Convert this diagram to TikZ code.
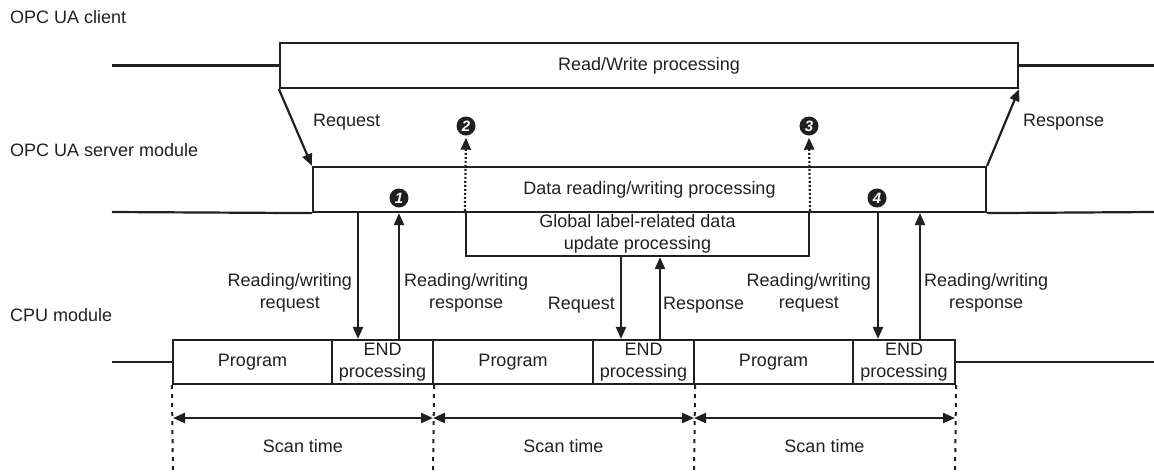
\documentclass[tikz,border=0pt]{standalone}
\usepackage{fontspec}
\setmainfont{Liberation Sans}
\usetikzlibrary{arrows.meta}
\definecolor{ink}{RGB}{35,31,32}
\newcommand\lblfont{\fontsize{18}{22}\selectfont}
\newcommand\cirnumfont{\fontsize{15}{15}\selectfont\bfseries\itshape}
\begin{document}
\begin{tikzpicture}[x=1pt,y=-1pt,
  box/.style={draw=ink, line width=2.2pt, inner sep=0pt, align=center, font=\lblfont, text=ink},
  lbl/.style={inner sep=0pt, align=center, font=\lblfont, text=ink},
  ln/.style={draw=ink, line width=2.2pt},
  arr/.style={draw=ink, line width=2.2pt, -{Triangle[length=12pt,width=10pt]}},
  dotarr/.style={draw=ink, line width=2.2pt, dash pattern=on 2pt off 2pt, -{Triangle[length=12pt,width=10pt]}},
  dblarr/.style={draw=ink, line width=2.2pt, {Triangle[length=12pt,width=10pt]}-{Triangle[length=12pt,width=10pt]}},
  dashln/.style={draw=ink, line width=2pt, dash pattern=on 4pt off 5pt},
  num/.style={circle, fill=ink, text=white, inner sep=0pt, minimum size=19pt, font=\cirnumfont}]
\useasboundingbox (0,0) rectangle (1154,475);

% row labels
\node[lbl, anchor=west] (lclient) at (10,17) {OPC UA client};
\node[lbl, anchor=west] (lserver) at (10,150) {OPC UA server module};
\node[lbl, anchor=west] (lcpu) at (10,315) {CPU module};

% coordinates for line ends
\coordinate (cL) at (112,65.5);
\coordinate (cR) at (1154,65.5);
\coordinate (sL) at (112,212);
\coordinate (sR) at (1154,212);
\coordinate (pL) at (112,362);
\coordinate (pR) at (1154,362);

% client
\node[box, minimum width=738pt, minimum height=45pt] (client) at (649,65.5) {Read/Write processing};
\draw[ln] (cL) -- (client.west);
\draw[ln] (client.east) -- (cR);

% server
\node[box, minimum width=673pt, minimum height=45pt] (server) at (649.5,189.5) {Data reading/writing processing};
\draw[ln] (sL) -- (server.south west);
\draw[ln] (server.south east) -- (sR);

% global label box
\node[box, minimum width=343pt, minimum height=44pt] (global) at (637.5,234) {Global label-related data\\update processing};

% CPU boxes
\node[box, minimum width=159pt, minimum height=44pt] (prog1) at (252.5,362) {Program};
\node[box, minimum width=101pt, minimum height=44pt] (end1) at (382.5,362) {END\\processing};
\node[box, minimum width=160pt, minimum height=44pt] (prog2) at (513,362) {Program};
\node[box, minimum width=101pt, minimum height=44pt] (end2) at (643.5,362) {END\\processing};
\node[box, minimum width=159pt, minimum height=44pt] (prog3) at (773.5,362) {Program};
\node[box, minimum width=102pt, minimum height=44pt] (end3) at (904,362) {END\\processing};
\draw[ln] (pL) -- (prog1.west);
\draw[ln] (end3.east) -- (pR);

% client <-> server
\draw[arr] (client.south west) -- (server.north west);
\draw[arr] (server.north east) -- (client.south east);
\node[lbl, anchor=west] (lreq) at (313,122) {Request};
\node[lbl, anchor=west] (lres) at (1023,122) {Response};

% circled numbers
\node[num] (n1) at (399,198) {1};
\node[num] (n2) at (466,126) {2};
\node[num] (n3) at (809,126) {3};
\node[num] (n4) at (877,198) {4};

% dotted arrows
\draw[dotarr, shorten >=2pt] (global.north west) -- (n2.south);
\draw[dotarr, shorten >=2pt] (global.north east) -- (n3.south);

% x positions of vertical arrows
\coordinate (x1) at (358,0);
\coordinate (x2) at (399,0);
\coordinate (x3) at (621,0);
\coordinate (x4) at (660,0);
\coordinate (x5) at (878,0);
\coordinate (x6) at (920,0);

\draw[arr] (server.south -| x1) -- (end1.north -| x1);
\draw[arr] (end1.north -| x2) -- (server.south -| x2);
\draw[arr] (global.south -| x3) -- (end2.north -| x3);
\draw[arr] (end2.north -| x4) -- (global.south -| x4);
\draw[arr] (server.south -| x5) -- (end3.north -| x5);
\draw[arr] (end3.north -| x6) -- (server.south -| x6);

\node[lbl, anchor=east] (t1) at (352,293) {Reading/writing\\request};
\node[lbl, anchor=west] (t2) at (404,293) {Reading/writing\\response};
\node[lbl, anchor=east] (t3) at (615,305) {Request};
\node[lbl, anchor=west] (t4) at (663,305) {Response};
\node[lbl, anchor=east] (t5) at (871,293) {Reading/writing\\request};
\node[lbl, anchor=west] (t6) at (924,293) {Reading/writing\\response};

% scan time
\coordinate (b0) at (173,475);
\coordinate (b1) at (433,475);
\coordinate (b2) at (694,475);
\coordinate (b3) at (955,475);
\draw[dashln] (prog1.south west) -- (b0);
\draw[dashln] (end1.south east) -- (b1);
\draw[dashln] (end2.south east) -- (b2);
\draw[dashln] (end3.south east) -- (b3);
\coordinate (a0) at (173,418);
\coordinate (a1) at (433,418);
\coordinate (a2) at (694,418);
\coordinate (a3) at (955,418);
\draw[dblarr] (a0) -- (a1);
\draw[dblarr] (a1) -- (a2);
\draw[dblarr] (a2) -- (a3);
\node[lbl] (s1) at (303,446) {Scan time};
\node[lbl] (s2) at (563.5,446) {Scan time};
\node[lbl] (s3) at (824.5,446) {Scan time};
\end{tikzpicture}
\end{document}
